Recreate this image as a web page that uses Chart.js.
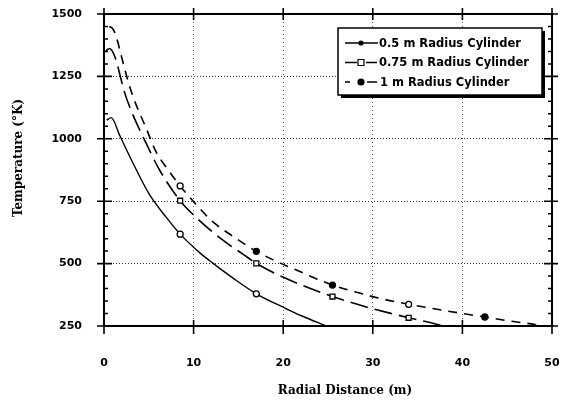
<!DOCTYPE html>
<html lang="en">
<head>
<meta charset="UTF-8">
<title>Temperature vs Radial Distance</title>
<style>
  html, body { margin: 0; padding: 0; background: #fff; }
  #wrap { width: 562px; height: 402px; }
</style>
</head>
<body>
<div id="wrap"><canvas id="myChart"></canvas></div>
<script src="https://cdn.jsdelivr.net/npm/chart.js"></script>
<script>
  // radial distance (m) / temperature (K) along each cylinder curve
  const dist05 = [0.3, 0.8, 1.8, 3.3, 5.1, 7.0, 8.5, 10.7, 12.1, 14.4, 17, 20.3, 22.1, 24.8];
  const temp05 = [1075, 1085, 1010, 898, 775, 683, 618, 543, 503, 442, 379, 320, 290, 250];

  const dist075 = [0.2, 0.6, 1.2, 2.3, 3.3, 4.4, 6.2, 8.5, 9.9, 11.8, 13.6, 15.5, 17, 19.9, 22.9, 25.5, 27.5, 29.6, 32.3, 34, 37, 37.8];
  const temp075 = [1352, 1362, 1330, 1185, 1090, 1005, 875, 752, 698, 636, 585, 538, 501, 447, 402, 368, 345, 323, 298, 283, 258, 250];

  const dist1 = [0.6, 1.0, 1.4, 2.0, 2.7, 3.3, 4.7, 5.8, 7.0, 8.5, 10.3, 12.1, 14.4, 17, 19.2, 21.4, 25.5, 28.4, 31, 34, 37, 40.7, 42.5, 45.5, 48.1, 48.6];
  const temp1 = [1450, 1440, 1405, 1323, 1229, 1163, 1043, 949, 883, 811, 736, 669, 609, 549, 510, 475, 414, 383, 359, 337, 318, 296, 286, 269, 256, 253];

  // distances where a symbol is drawn on the curves
  const markerDist = [8.5, 17, 25.5, 34, 42.5];

  const seriesLabels = ['0.5 m Radius Cylinder', '0.75 m Radius Cylinder', '1 m Radius Cylinder'];
  const xTicks = [0, 10, 20, 30, 40, 50];
  const yTicks = [250, 500, 750, 1000, 1250, 1500];

  function toPoints(xs, ys) {
    return xs.map((x, i) => ({ x: x, y: ys[i] }));
  }
  function markRadius(r) {
    return c => (c.raw && markerDist.includes(c.raw.x)) ? r : 0;
  }

  const tickFont = { family: 'DejaVu Sans', weight: 'bold', size: 11 };

  // box, cross ticks, axis titles and legend
  const decor = {
    id: 'decor',
    afterDraw(chart) {
      const ctx = chart.ctx;
      const a = chart.chartArea;
      const xs = chart.scales.x, ys = chart.scales.y;
      ctx.save();
      ctx.strokeStyle = '#000';
      ctx.lineWidth = 2;
      ctx.strokeRect(a.left, a.top, a.right - a.left, a.bottom - a.top);

      ctx.lineWidth = 1.6;
      ctx.beginPath();
      yTicks.forEach(v => {
        const y = ys.getPixelForValue(v);
        ctx.moveTo(a.left - 7, y); ctx.lineTo(a.left + 8, y);
        ctx.moveTo(a.right - 8, y); ctx.lineTo(a.right + 6, y);
      });
      xTicks.forEach(v => {
        const x = xs.getPixelForValue(v);
        ctx.moveTo(x, a.bottom - 6); ctx.lineTo(x, a.bottom + 8);
        ctx.moveTo(x, a.top - 6); ctx.lineTo(x, a.top + 6);
      });
      ctx.stroke();

      // minor ticks on the temperature axes
      ctx.lineWidth = 1.5;
      ctx.beginPath();
      for (let v = 300; v < 1500; v += 50) {
        if (v % 250 === 0) continue;
        const y = ys.getPixelForValue(v);
        ctx.moveTo(a.left, y); ctx.lineTo(a.left + 4, y);
        ctx.moveTo(a.right, y); ctx.lineTo(a.right - 4, y);
      }
      ctx.stroke();

      // axis titles
      ctx.fillStyle = '#000';
      ctx.font = 'bold 12px "DejaVu Serif"';
      ctx.textAlign = 'center';
      ctx.textBaseline = 'middle';
      ctx.fillText('Radial Distance (m)', 345, 391);
      ctx.save();
      ctx.translate(19, 158);
      ctx.rotate(-Math.PI / 2);
      ctx.fillText('Temperature (\u00B0K)', 0, 0);
      ctx.restore();

      // legend box with drop shadow
      const bx = 338, by = 28, bw = 204, bh = 67;
      ctx.fillStyle = '#000';
      ctx.fillRect(bx + 3, by + 3, bw, bh);
      ctx.fillStyle = '#fff';
      ctx.fillRect(bx, by, bw, bh);
      ctx.lineWidth = 1.5;
      ctx.strokeRect(bx, by, bw, bh);

      ctx.font = 'bold 11.5px "DejaVu Sans"';
      ctx.textAlign = 'left';
      chart.data.datasets.forEach((ds, i) => {
        const y = 43 + i * 19.5;
        ctx.strokeStyle = '#000';
        ctx.lineWidth = 1.5;
        ctx.beginPath();
        ds.legendSegs.forEach(sg => { ctx.moveTo(345 + sg[0], y); ctx.lineTo(345 + sg[1], y); });
        ctx.stroke();
        ctx.lineWidth = 1.2;
        ctx.beginPath();
        if (ds.pointStyle === 'rect') {
          ctx.rect(358, y - 3, 6, 6);
        } else {
          ctx.arc(361, y, i === 0 ? 2 : 3, 0, Math.PI * 2);
        }
        ctx.fillStyle = ds.legendFill;
        ctx.fill();
        ctx.stroke();
        ctx.fillStyle = '#000';
        ctx.fillText(ds.label, ds.legendText, y + 1);
      });
      ctx.restore();
    }
  };

  const ctx = document.getElementById('myChart').getContext('2d');
  const myChart = new Chart(ctx, {
    type: 'line',
    data: {
      datasets: [{
        label: seriesLabels[0],
        data: toPoints(dist05, temp05),
        borderColor: '#000',
        borderWidth: 1.4,
        pointStyle: 'circle',
        pointRadius: markRadius(3),
        pointBackgroundColor: '#fff',
        pointBorderColor: '#000',
        pointBorderWidth: 1.3,
        legendSegs: [[0, 33]],
        legendText: 379,
        legendFill: '#000'
      }, {
        label: seriesLabels[1],
        data: toPoints(dist075, temp075),
        borderColor: '#000',
        borderWidth: 1.6,
        borderDash: [18, 7],
        pointStyle: 'rect',
        pointRadius: markRadius(3.5),
        pointBackgroundColor: '#fff',
        pointBorderColor: '#000',
        pointBorderWidth: 1.3,
        legendSegs: [[0, 12], [21, 32]],
        legendText: 379,
        legendFill: '#fff'
      }, {
        label: seriesLabels[2],
        data: toPoints(dist1, temp1),
        borderColor: '#000',
        borderWidth: 1.6,
        borderDash: [9, 7],
        pointStyle: 'circle',
        pointRadius: markRadius(3),
        pointBackgroundColor: c => (c.raw && (c.raw.x === 8.5 || c.raw.x === 34)) ? '#fff' : '#000',
        pointBorderColor: '#000',
        pointBorderWidth: 1.3,
        legendSegs: [[0, 5], [22, 32]],
        legendText: 380,
        legendFill: '#000'
      }]
    },
    options: {
      responsive: true,
      maintainAspectRatio: false,
      animation: false,
      cubicInterpolationMode: 'monotone',
      layout: { padding: { top: 14, right: 10, left: 0, bottom: 0 } },
      plugins: {
        legend: { display: false },
        tooltip: { enabled: false }
      },
      scales: {
        x: {
          type: 'linear',
          min: 0,
          max: 50,
          afterFit: s => { s.height = 76; s.paddingLeft = 0; s.paddingRight = 0; },
          afterBuildTicks: s => { s.ticks = xTicks.map(v => ({ value: v })); },
          ticks: { font: tickFont, color: '#000', padding: 31, maxRotation: 0, callback: v => String(v) },
          grid: { color: '#555', lineWidth: 1, drawTicks: false },
          border: { display: false, dash: [1, 3] }
        },
        y: {
          min: 250,
          max: 1500,
          afterFit: s => { s.width = 104; s.paddingTop = 0; s.paddingBottom = 0; },
          afterBuildTicks: s => { s.ticks = yTicks.map(v => ({ value: v })); },
          ticks: { font: tickFont, color: '#000', padding: 22, callback: v => String(v) },
          grid: { color: '#333', lineWidth: 1, drawTicks: false },
          border: { display: false, dash: [1, 2] }
        }
      }
    },
    plugins: [decor]
  });
</script>
</body>
</html>
